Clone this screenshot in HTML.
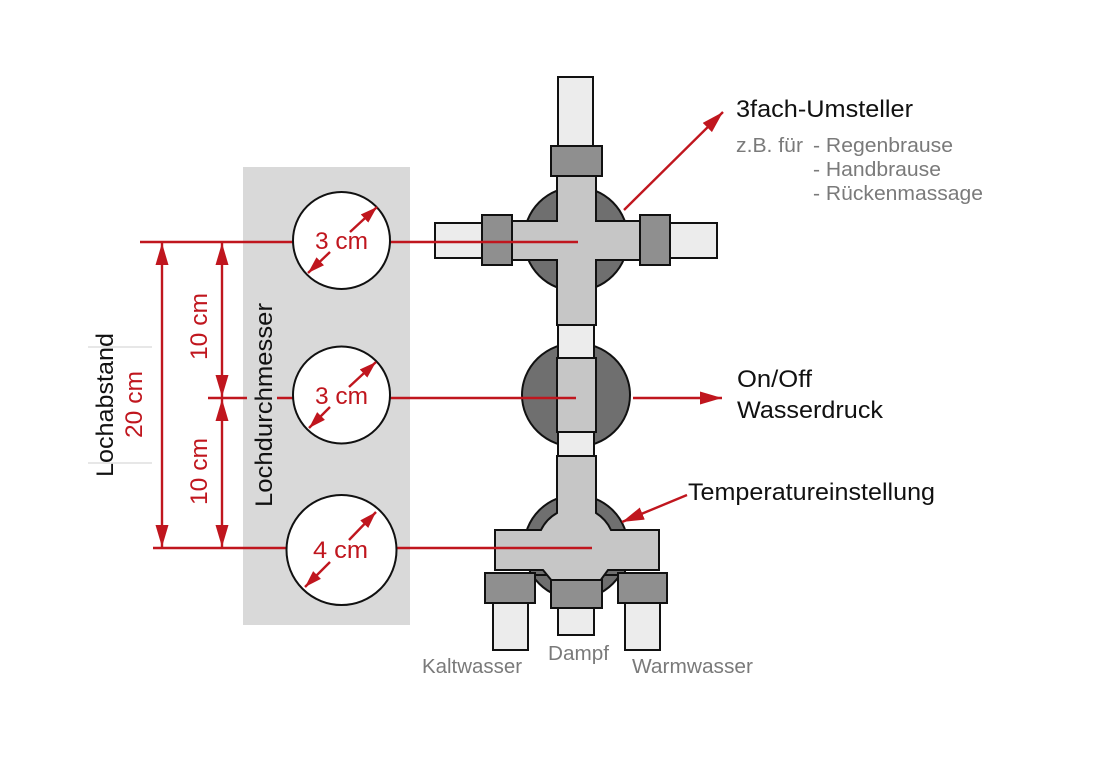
<!DOCTYPE html>
<html>
<head>
<meta charset="utf-8">
<style>
html,body{margin:0;padding:0;background:#fff;}
svg{display:block;}
text{font-family:"Liberation Sans",Arial,sans-serif;}
</style>
</head>
<body>
<svg width="1100" height="757" viewBox="0 0 1100 757" xmlns="http://www.w3.org/2000/svg">
<defs>
<marker id="ah" viewBox="0 0 22 13" refX="22" refY="6.5" markerWidth="22" markerHeight="13" markerUnits="userSpaceOnUse" orient="auto-start-reverse">
<path d="M0,0 L22,6.5 L0,13 z" fill="#c0161e"/>
</marker>
<marker id="ahs" viewBox="0 0 17 11" refX="17" refY="5.5" markerWidth="17" markerHeight="11" markerUnits="userSpaceOnUse" orient="auto">
<path d="M0,0 L17,5.5 L0,11 z" fill="#c0161e"/>
</marker>
</defs>

<!-- gray board -->
<rect x="243" y="167" width="167" height="458" fill="#d9d9d9"/>

<!-- thin gray lines -->
<line x1="88" y1="347" x2="152" y2="347" stroke="#cfcfcf" stroke-width="1"/>
<line x1="88" y1="463" x2="152" y2="463" stroke="#cfcfcf" stroke-width="1"/>

<g stroke="#111" stroke-width="2">
<!-- TOP VALVE -->
<rect x="558" y="77" width="35" height="70" fill="#ececec"/>
<circle cx="576" cy="239" r="52" fill="#6f6f6f"/>
<rect x="558" y="320" width="36" height="140" fill="#ececec"/>
<path d="M557,176 H596 V221 H640 V260 H596 V325 H557 V260 H512 V221 H557 Z" fill="#c6c6c6"/>
<rect x="551" y="146" width="51" height="30" fill="#8f8f8f"/>
<rect x="435" y="223" width="47" height="35" fill="#ececec"/>
<rect x="482" y="215" width="30" height="50" fill="#8f8f8f"/>
<rect x="670" y="223" width="47" height="35" fill="#ececec"/>
<rect x="640" y="215" width="30" height="50" fill="#8f8f8f"/>

<!-- MIDDLE VALVE -->
<ellipse cx="576" cy="395" rx="54" ry="52" fill="#6f6f6f"/>
<rect x="558" y="325" width="36" height="33" fill="#ececec"/>
<rect x="558" y="432" width="36" height="26" fill="#ececec"/>
<rect x="557" y="358" width="39" height="74" fill="#c6c6c6"/>

<!-- BOTTOM VALVE -->
<circle cx="576" cy="547" r="52" fill="#6f6f6f"/>
<rect x="530" y="569" width="95" height="6" fill="#6f6f6f"/>
<path d="M557,456 V513 A39,39 0 0 0 541,530 H495 V570 H543 L552,581 H600 L608,570 H659 V530 H611 A39,39 0 0 0 596,513 V456 Z" fill="#c6c6c6"/>
<rect x="493" y="603" width="35" height="47" fill="#ececec"/>
<rect x="558" y="608" width="36" height="27" fill="#ececec"/>
<rect x="625" y="603" width="35" height="47" fill="#ececec"/>
<rect x="485" y="573" width="50" height="30" fill="#8f8f8f"/>
<rect x="551" y="580" width="51" height="28" fill="#8f8f8f"/>
<rect x="618" y="573" width="49" height="30" fill="#8f8f8f"/>
</g>

<!-- red horizontal lines -->
<g stroke="#c0161e" stroke-width="2.4" fill="none">
<line x1="140" y1="242" x2="578" y2="242"/>
<line x1="208" y1="398" x2="247" y2="398"/>
<line x1="277" y1="398" x2="576" y2="398"/>
<line x1="153" y1="548" x2="592" y2="548"/>
<!-- vertical dimension arrows -->
<line x1="162" y1="243" x2="162" y2="547" marker-start="url(#ah)" marker-end="url(#ah)"/>
<line x1="222" y1="243" x2="222" y2="397" marker-start="url(#ah)" marker-end="url(#ah)"/>
<line x1="222" y1="399" x2="222" y2="547" marker-start="url(#ah)" marker-end="url(#ah)"/>
<!-- callout arrows -->
<line x1="624" y1="210" x2="723" y2="112" marker-end="url(#ah)"/>
<line x1="633" y1="398" x2="722" y2="398" marker-end="url(#ah)"/>
<line x1="687" y1="495" x2="622" y2="522" marker-end="url(#ah)"/>
</g>

<!-- hole circles -->
<g stroke="#111" stroke-width="2" fill="#fff">
<circle cx="341.5" cy="240.5" r="48.5"/>
<circle cx="341.5" cy="395" r="48.5"/>
<circle cx="341.5" cy="550" r="55"/>
</g>
<g stroke="#c0161e" stroke-width="2.4" fill="none">
<line x1="350" y1="232" x2="377" y2="207" marker-end="url(#ahs)"/>
<line x1="330" y1="252" x2="308" y2="273" marker-end="url(#ahs)"/>
<line x1="349" y1="387" x2="376" y2="362" marker-end="url(#ahs)"/>
<line x1="330" y1="407" x2="309" y2="428" marker-end="url(#ahs)"/>
<line x1="349" y1="540" x2="376" y2="512" marker-end="url(#ahs)"/>
<line x1="330" y1="562" x2="305" y2="587" marker-end="url(#ahs)"/>
</g>

<!-- circle labels -->
<g fill="#c0161e" font-size="24">
<text x="315" y="249" textLength="53" lengthAdjust="spacingAndGlyphs">3 cm</text>
<text x="315" y="404" textLength="53" lengthAdjust="spacingAndGlyphs">3 cm</text>
<text x="313" y="558" textLength="55" lengthAdjust="spacingAndGlyphs">4 cm</text>
</g>

<!-- rotated labels -->
<text transform="translate(113,477) rotate(-90)" font-size="24" fill="#111" textLength="144" lengthAdjust="spacingAndGlyphs">Lochabstand</text>
<text transform="translate(142,438) rotate(-90)" font-size="24" fill="#c0161e" textLength="67" lengthAdjust="spacingAndGlyphs">20 cm</text>
<text transform="translate(207,360) rotate(-90)" font-size="24" fill="#c0161e" textLength="67" lengthAdjust="spacingAndGlyphs">10 cm</text>
<text transform="translate(207,505) rotate(-90)" font-size="24" fill="#c0161e" textLength="67" lengthAdjust="spacingAndGlyphs">10 cm</text>
<text transform="translate(272,507) rotate(-90)" font-size="24" fill="#111" textLength="204" lengthAdjust="spacingAndGlyphs">Lochdurchmesser</text>

<!-- right labels -->
<text x="736" y="117" font-size="24" fill="#111" textLength="177" lengthAdjust="spacingAndGlyphs">3fach-Umsteller</text>
<g font-size="20" fill="#7a7a7a">
<text x="736" y="152" textLength="67" lengthAdjust="spacingAndGlyphs">z.B. für</text>
<text x="813" y="152" textLength="140" lengthAdjust="spacingAndGlyphs">- Regenbrause</text>
<text x="813" y="176" textLength="128" lengthAdjust="spacingAndGlyphs">- Handbrause</text>
<text x="813" y="200" textLength="170" lengthAdjust="spacingAndGlyphs">- Rückenmassage</text>
</g>
<text x="737" y="387" font-size="24" fill="#111" textLength="75" lengthAdjust="spacingAndGlyphs">On/Off</text>
<text x="737" y="418" font-size="24" fill="#111" textLength="146" lengthAdjust="spacingAndGlyphs">Wasserdruck</text>
<text x="688" y="500" font-size="24" fill="#111" textLength="247" lengthAdjust="spacingAndGlyphs">Temperatureinstellung</text>

<!-- bottom labels -->
<g font-size="20" fill="#7a7a7a">
<text x="422" y="673" textLength="100" lengthAdjust="spacingAndGlyphs">Kaltwasser</text>
<text x="548" y="660" textLength="61" lengthAdjust="spacingAndGlyphs">Dampf</text>
<text x="632" y="673" textLength="121" lengthAdjust="spacingAndGlyphs">Warmwasser</text>
</g>
</svg>
</body>
</html>
